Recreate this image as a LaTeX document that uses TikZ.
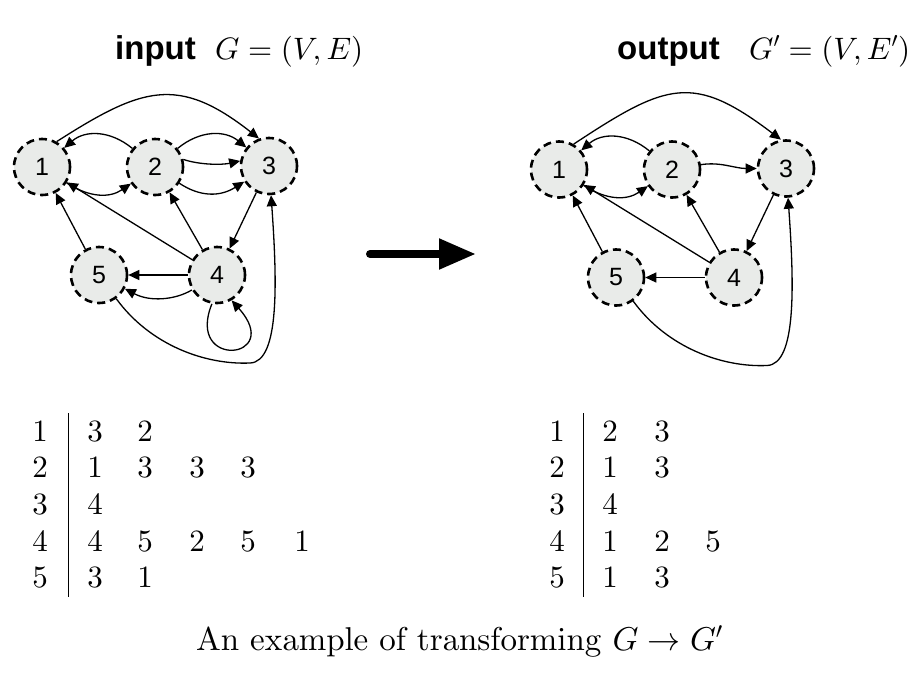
\documentclass[tikz,border=0pt]{standalone}
\usepackage[no-math]{fontspec}
\newfontfamily\lsans{Liberation Sans}
\DeclareFontShape{OT1}{cmr}{m}{n}{<->cmr10}{}
\DeclareFontShape{OML}{cmm}{m}{it}{<->cmmi10}{}
\DeclareFontShape{OMS}{cmsy}{m}{n}{<->cmsy10}{}
\newcommand\cmten{\fontencoding{OT1}\fontfamily{cmr}\fontseries{m}\fontshape{n}}
\usetikzlibrary{arrows.meta}
\definecolor{nodefill}{RGB}{233,235,233}
\begin{document}
\begin{tikzpicture}[x=1pt,y=-1pt,
  vtx/.style={circle, draw=black, fill=nodefill, line width=2.6pt, dash pattern=on 8pt off 5pt, minimum size=56pt, inner sep=0pt, font=\lsans\fontsize{25}{30}\selectfont},
  edge/.style={line width=1.3pt, -{Triangle[length=11pt,width=10pt]}},
  tab/.style={inner sep=0pt, font=\cmten\fontsize{31}{36}\selectfont},
  ttl/.style={anchor=base west, inner sep=0pt, font=\lsans\bfseries\fontsize{33}{40}\selectfont},
  ttm/.style={anchor=base west, inner sep=0pt, font=\cmten\fontsize{31}{37}\selectfont},
  bigarrow/.style={line width=8pt, line cap=round, -{Triangle[length=37pt,width=29pt]}},
  rulev/.style={line width=0.9pt}
]
\useasboundingbox (0,0) rectangle (924,689);

% titles
\node[ttl] (tin) at (115,59) {input};
\node[ttm] (tinm) at (215,59) {$G=(V,E)$};
\node[ttl] (tout) at (617,59) {output};
\node[ttm] (toutm) at (749,59) {$G'=(V,E')$};

% left graph
\begin{scope}
\node[vtx] (L1) at (42,167) {1};
\node[vtx] (L2) at (155,167) {2};
\node[vtx] (L3) at (269,166) {3};
\node[vtx] (L4) at (217,275) {4};
\node[vtx] (L5) at (99,275) {5};
\draw[edge] (L1.60) .. controls (142,87) and (178,75) .. (L3.110);
\draw[edge] (L2) .. controls (110,130) and (85,130) .. (L1);
\draw[edge] (L1) .. controls (90,198) and (110,198) .. (L2);
\draw[edge] (L2) .. controls (200,130) and (225,130) .. (L3);
\draw[edge] (L2.15) .. controls (200,165) and (222,165) .. (L3.170);
\draw[edge] (L2) .. controls (200,197) and (220,197) .. (L3);
\draw[edge] (L3) -- (L4);
\draw[edge] (L4) -- (L2);
\draw[edge] (L4) -- (L1);
\draw[edge] (L5) -- (L1);
\draw[edge] (L4) -- (L5);
\draw[edge] (L4) .. controls (175,300) and (150,302) .. (L5);
\draw[edge] (L4.260) .. controls (185,370) and (285,360) .. (L4.300);
\draw[edge] (L5) .. controls (150,345) and (205,365) .. (250,363) .. controls (280,362) and (277,280) .. (L3);
\end{scope}

% right graph
\begin{scope}[shift={(517,2.5)}]
\node[vtx] (R1) at (42,167) {1};
\node[vtx] (R2) at (155,167) {2};
\node[vtx] (R3) at (269,166) {3};
\node[vtx] (R4) at (217,275) {4};
\node[vtx] (R5) at (99,275) {5};
\draw[edge] (R1.60) .. controls (150,80) and (176,70.5) .. (R3.100);
\draw[edge] (R2) .. controls (110,130) and (85,130) .. (R1);
\draw[edge] (R1) .. controls (90,198) and (110,198) .. (R2);
\draw[edge] (R2) .. controls (203,159) and (218,166) .. (R3);
\draw[edge] (R3) -- (R4);
\draw[edge] (R4) -- (R2);
\draw[edge] (R4) -- (R1);
\draw[edge] (R5) -- (R1);
\draw[edge] (R4) -- (R5);
\draw[edge] (R5) .. controls (150,345) and (205,365) .. (250,363) .. controls (280,362) and (277,280) .. (R3);
\end{scope}

% big arrow
\coordinate (bs) at (370,254);
\coordinate (be) at (476,254);
\draw[bigarrow] (bs) -- (be);

% left table
\coordinate (lrt) at (68,413);
\coordinate (lrb) at (68,597);
\draw[rulev] (lrt) -- (lrb);
\node[tab] (la1) at (40,432) {1};
\node[tab] (la2) at (40,468) {2};
\node[tab] (la3) at (40,505) {3};
\node[tab] (la4) at (40,542) {4};
\node[tab] (la5) at (40,578) {5};
\node[tab] (lb11) at (95,432) {3};
\node[tab] (lb12) at (145,432) {2};
\node[tab] (lb21) at (95,468) {1};
\node[tab] (lb22) at (145,468) {3};
\node[tab] (lb23) at (197,468) {3};
\node[tab] (lb24) at (248,468) {3};
\node[tab] (lb31) at (95,505) {4};
\node[tab] (lb41) at (95,542) {4};
\node[tab] (lb42) at (145,542) {5};
\node[tab] (lb43) at (197,542) {2};
\node[tab] (lb44) at (248,542) {5};
\node[tab] (lb45) at (302,542) {1};
\node[tab] (lb51) at (95,578) {3};
\node[tab] (lb52) at (145,578) {1};

% right table
\coordinate (rrt) at (583,413);
\coordinate (rrb) at (583,597);
\draw[rulev] (rrt) -- (rrb);
\node[tab] (ra1) at (557,432) {1};
\node[tab] (ra2) at (557,468) {2};
\node[tab] (ra3) at (557,505) {3};
\node[tab] (ra4) at (557,542) {4};
\node[tab] (ra5) at (557,578) {5};
\node[tab] (rb11) at (610,432) {2};
\node[tab] (rb12) at (662,432) {3};
\node[tab] (rb21) at (610,468) {1};
\node[tab] (rb22) at (662,468) {3};
\node[tab] (rb31) at (610,505) {4};
\node[tab] (rb41) at (610,542) {1};
\node[tab] (rb42) at (662,542) {2};
\node[tab] (rb43) at (713,542) {5};
\node[tab] (rb51) at (610,578) {1};
\node[tab] (rb52) at (662,578) {3};

% caption
\node[anchor=base, inner sep=0pt, font=\cmten\fontsize{33}{39}\selectfont] (cap) at (459.5,650) {An example of transforming $G\to G'$};
\end{tikzpicture}
\end{document}
